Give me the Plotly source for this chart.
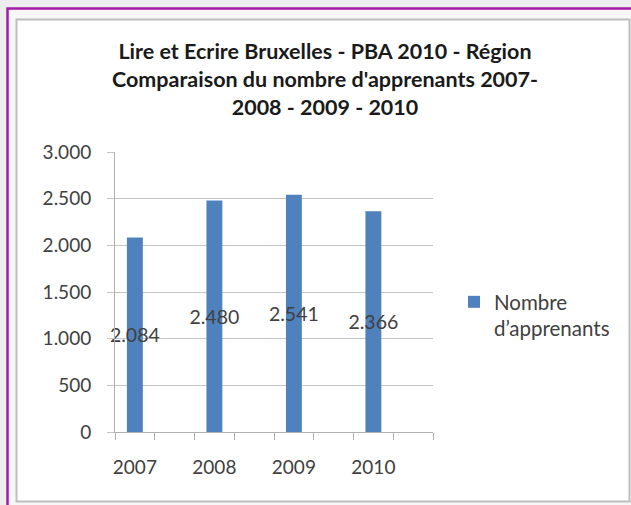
import plotly.graph_objects as go

years = ["2007", "2008", "2009", "2010"]
apprenants = [2084, 2480, 2541, 2366]
series_name = "Nombre<br>d’apprenants"
title_lines = [
    "Lire et Ecrire Bruxelles - PBA 2010 - Région",
    "Comparaison du nombre d'apprenants 2007-",
    "2008 - 2009 - 2010",
]
y_ticks = [0, 500, 1000, 1500, 2000, 2500, 3000]

W, H = 631, 505
ML, MR, MT, MB = 115, 198, 152, 73
PW, PH = W - ML - MR, H - MT - MB

def px_x(p):
    return (p - ML) / PW

def px_y(p):
    return (H - MB - p) / PH

FONT = "Lato"
TXT = "#404040"
GRID = "#C4C4C4"

xpos = list(range(len(years)))
labels = [f"{v:,}".replace(",", ".") for v in apprenants]

fig = go.Figure()
fig.add_trace(go.Bar(
    x=xpos, y=apprenants, name=series_name,
    marker=dict(color="#4F81BD", line=dict(width=0)),
    width=0.2,
    text=labels, textposition="inside", insidetextanchor="middle",
    textangle=0, constraintext="none", cliponaxis=False,
    insidetextfont=dict(family=FONT, size=19.5, color=TXT),
    showlegend=True,
))

minor_vals = [i * 0.5 - 0.25 for i in range(2 * len(years) + 1)]

fig.update_layout(
    width=W, height=H,
    margin=dict(l=ML, r=MR, t=MT, b=MB, pad=0),
    paper_bgcolor="#EEEEEE", plot_bgcolor="white",
    separators=",.",
    title=dict(text="<br>".join(title_lines), xref="container", x=325 / W,
               xanchor="center", yref="container", y=1 - 59 / H, yanchor="top",
               font=dict(family=FONT, size=21.5, color="#1A1A1A", weight="bold")),
    xaxis=dict(range=[-0.25, len(years) - 0.25], tickvals=xpos, ticktext=years,
               ticks="", showgrid=False, zeroline=False,
               showline=True, linecolor="#B0B0B0", linewidth=1,
               tickfont=dict(family=FONT, size=19, color=TXT),
               ticklabelstandoff=18,
               minor=dict(tickmode="array", tickvals=minor_vals, ticks="outside",
                          ticklen=7, tickcolor="#B0B0B0", tickwidth=1, showgrid=False)),
    yaxis=dict(range=[0, 3000], tickvals=y_ticks, tickformat=",d",
               ticks="outside", ticklen=7, tickcolor=GRID, tickwidth=1,
               showgrid=True, gridcolor=GRID, gridwidth=1, zeroline=False,
               showline=True, linecolor="#B0B0B0", linewidth=1,
               tickfont=dict(family=FONT, size=19, color=TXT),
               ticklabelstandoff=12),
    legend=dict(x=px_x(454), y=px_y(282), xanchor="left", yanchor="top",
                valign="top", bgcolor="rgba(0,0,0,0)",
                font=dict(family=FONT, size=20.5, color=TXT)),
    shapes=[
        dict(type="rect", xref="paper", yref="paper", layer="below",
             x0=px_x(7.5), x1=px_x(W + 10), y0=px_y(H + 10), y1=px_y(8.5),
             fillcolor="#F7F7F7", line=dict(color="#A21AA6", width=2.5)),
        dict(type="rect", xref="paper", yref="paper", layer="below",
             x0=px_x(16.5), x1=px_x(629.5), y0=px_y(501.5), y1=px_y(19.5),
             fillcolor="white", line=dict(color="#BDBDBD", width=2)),
    ],
)

fig.write_html("out.html", config={"displayModeBar": False},
               post_script="document.body.style.margin='0';document.body.style.overflow='hidden';")
